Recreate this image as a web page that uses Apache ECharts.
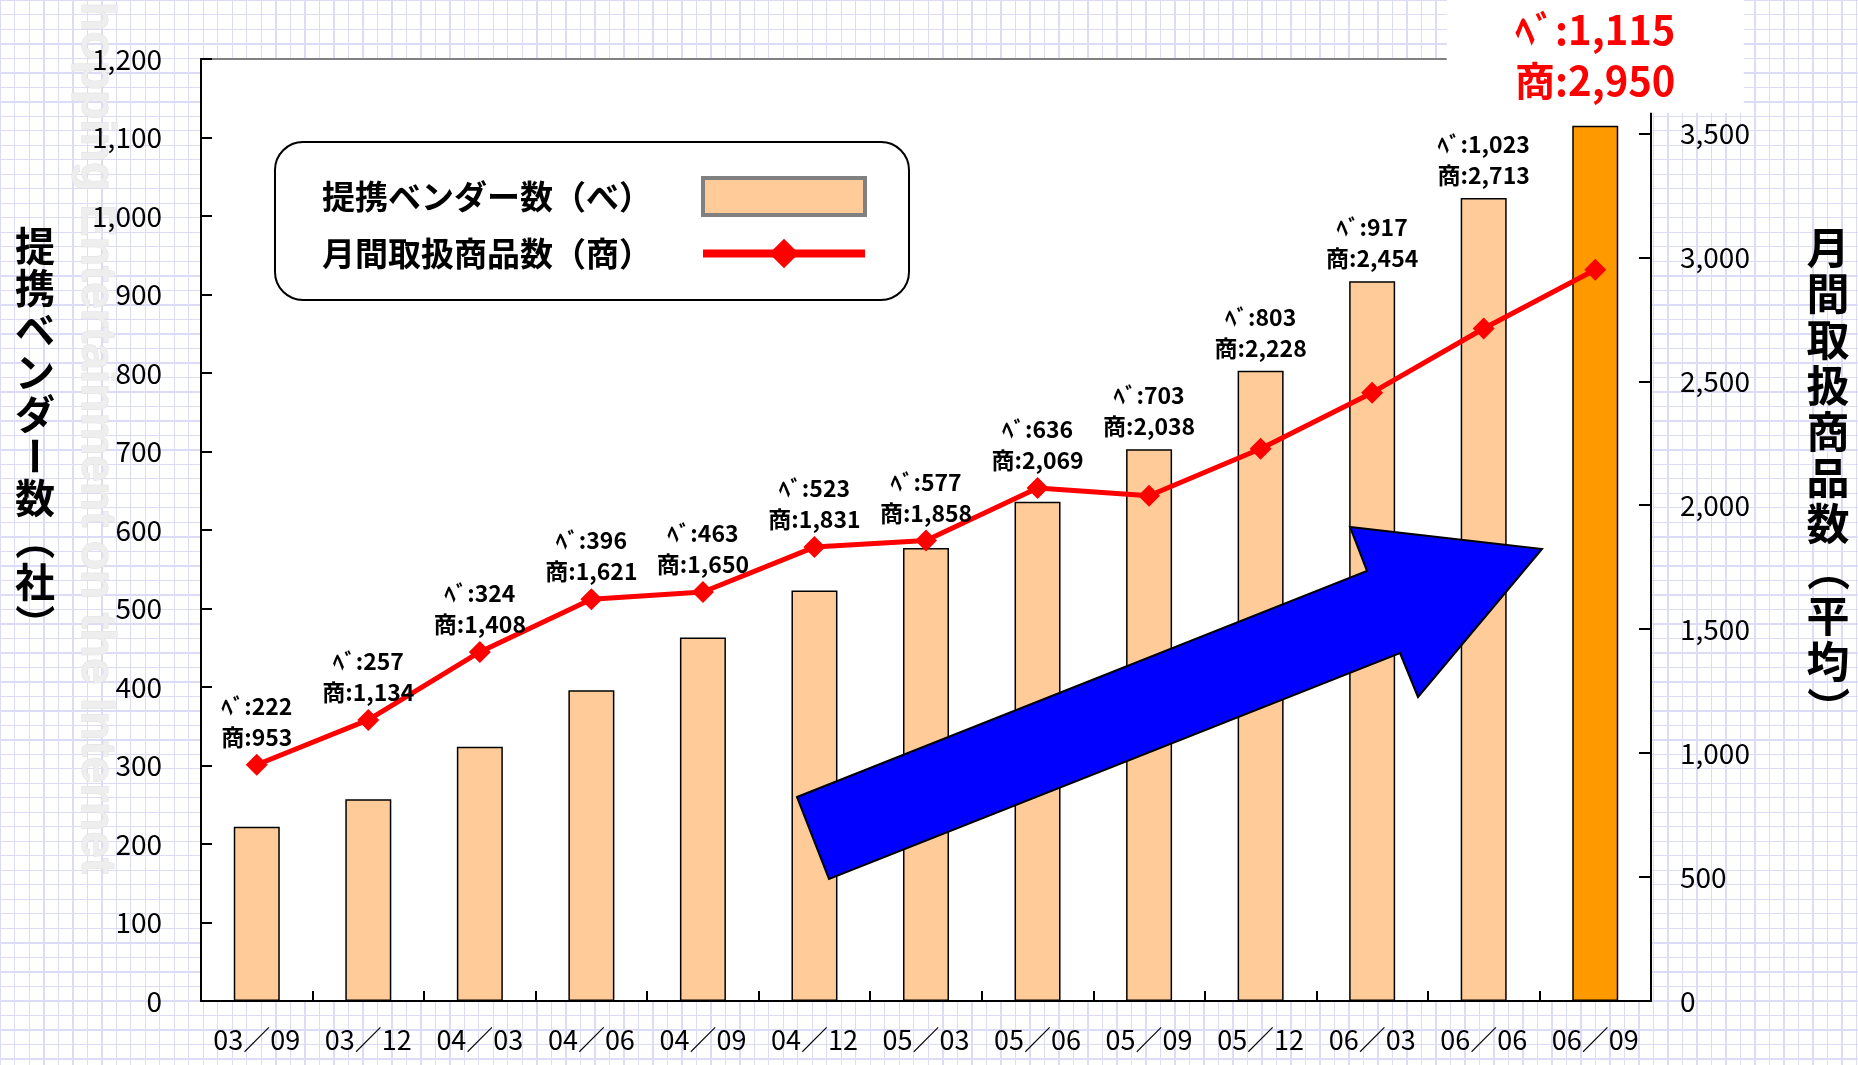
<!DOCTYPE html>
<html>
<head>
<meta charset="utf-8">
<script src="https://cdn.jsdelivr.net/npm/echarts@6/dist/echarts.min.js"></script>
<style>
  html, body { margin: 0; padding: 0; }
  #chart {
    width: 1858px;
    height: 1065px;
    background-color: #ffffff;
    background-image:
      repeating-linear-gradient(to right, #dcdcf6 0 1px, transparent 1px 14.5px),
      repeating-linear-gradient(to bottom, #dcdcf6 0 1px, transparent 1px 14.5px);
  }
</style>
</head>
<body>
<div id="chart"></div>
<script>
// Half-yearly periods (yy／mm)
const categories = ['03／09', '03／12', '04／03', '04／06', '04／09', '04／12', '05／03',
                    '05／06', '05／09', '05／12', '06／03', '06／06', '06／09'];
// Partner vendors (left axis, companies)
const vendorCounts = [222, 257, 324, 396, 463, 523, 577, 636, 703, 803, 917, 1023, 1115];
// Monthly products handled, average (right axis)
const productCounts = [953, 1134, 1408, 1621, 1650, 1831, 1858, 2069, 2038, 2228, 2454, 2713, 2950];

// Axis scales
const leftMin = 0, leftMax = 1200, leftStep = 100;
const rightMin = 0, rightMax = 3800, rightStep = 500;

const vendorName = '提携ベンダー数（べ）';
const productName = '月間取扱商品数（商）';
const leftTitle = '提携ベンダー数（社）';
const rightTitle = '月間取扱商品数（平均）';

const FONT = '"Noto Sans CJK JP", "Noto Sans", sans-serif';
const fmt = n => n.toLocaleString('en-US');
const pairLabel = i => 'ﾍﾞ:' + fmt(vendorCounts[i]) + '\n商:' + fmt(productCounts[i]);

// the value label sits on whichever mark reaches higher
const lineOnTop = vendorCounts.map((v, i) =>
  (productCounts[i] - rightMin) / (rightMax - rightMin) > (v - leftMin) / (leftMax - leftMin));
const lastIdx = categories.length - 1;

const barData = vendorCounts.map((v, i) => {
  const item = { value: v, label: { show: !lineOnTop[i] } };
  if (i === lastIdx) {
    item.itemStyle = { color: '#FF9900' };
    item.label = {
      show: true,
      distance: 13,
      fontSize: 40,
      fontWeight: 'bold',
      lineHeight: 51,
      color: '#FF0000',
      backgroundColor: '#ffffff',
      width: 277,
      align: 'center',
      padding: [6, 10, 6, 10]
    };
  }
  return item;
});
const lineData = productCounts.map((v, i) => ({ value: v, label: { show: lineOnTop[i] } }));

// vertical (tategaki) axis titles, one glyph per text element
function verticalTitle(text, cx, top, step, size) {
  const rotated = { 'ー': true, '（': true, '）': true };
  return Array.from(text).map((ch, i) => ({
    type: 'text',
    x: cx,
    y: top + step * i + step / 2,
    rotation: rotated[ch] ? -Math.PI / 2 : 0,
    z: 20,
    style: {
      text: ch,
      fill: '#000',
      font: 'bold ' + size + 'px ' + FONT,
      align: 'center',
      verticalAlign: 'middle'
    }
  }));
}

const chart = echarts.init(document.getElementById('chart'), null, { renderer: 'canvas' });

const option = {
  backgroundColor: 'transparent',
  animation: false,
  textStyle: { fontFamily: FONT },
  grid: {
    left: 201, top: 59, right: 207, bottom: 64,
    show: true,
    backgroundColor: '#ffffff',
    borderColor: '#808080',
    borderWidth: 2
  },
  legend: {
    left: 275,
    top: 142,
    orient: 'vertical',
    align: 'right',
    selectedMode: false,
    backgroundColor: '#ffffff',
    borderColor: '#000000',
    borderWidth: 2,
    borderRadius: 28,
    padding: [34, 40, 30, 47],
    itemWidth: 162,
    itemHeight: 37,
    itemGap: 20,
    textStyle: {
      fontFamily: FONT,
      fontSize: 33,
      fontWeight: 'bold',
      color: '#000',
      padding: [0, 46, 6, 0]
    },
    data: [
      { name: vendorName, icon: 'rect', itemStyle: { color: '#FFCC99', borderColor: '#808080', borderWidth: 4 } },
      { name: productName, lineStyle: { width: 8, color: '#FF0000' } }
    ]
  },
  xAxis: {
    type: 'category',
    data: categories,
    boundaryGap: true,
    axisLine: { show: true, lineStyle: { color: '#000', width: 2 } },
    axisTick: { show: true, inside: true, length: 10, interval: 0, lineStyle: { color: '#000', width: 2 } },
    axisLabel: { color: '#000', fontSize: 27, margin: 25, interval: 0, hideOverlap: false, fontFamily: FONT },
    splitLine: { show: false }
  },
  yAxis: [
    {
      type: 'value',
      position: 'left',
      min: leftMin, max: leftMax, interval: leftStep,
      axisLine: { show: true, lineStyle: { color: '#000', width: 2 } },
      axisTick: { show: true, inside: true, length: 11, lineStyle: { color: '#000', width: 2 } },
      axisLabel: { color: '#000', fontSize: 28, margin: 39, fontFamily: FONT, formatter: v => fmt(v) },
      splitLine: { show: false }
    },
    {
      type: 'value',
      position: 'right',
      min: rightMin, max: rightMax, interval: rightStep,
      alignTicks: false,
      axisLine: { show: true, lineStyle: { color: '#000', width: 2 } },
      axisTick: { show: true, inside: true, length: 12, lineStyle: { color: '#000', width: 2 } },
      axisLabel: { color: '#000', fontSize: 28, margin: 29, fontFamily: FONT, showMaxLabel: false, formatter: v => fmt(v) },
      splitLine: { show: false }
    }
  ],
  series: [
    {
      name: vendorName,
      type: 'bar',
      yAxisIndex: 0,
      barWidth: 46,
      data: barData,
      itemStyle: { color: '#FFCC99', borderColor: '#000', borderWidth: 1.5 },
      label: {
        show: false,
        position: 'top',
        distance: 7,
        formatter: p => pairLabel(p.dataIndex),
        fontFamily: FONT,
        fontSize: 23,
        fontWeight: 'bold',
        lineHeight: 31,
        color: '#000'
      },
      z: 2
    },
    {
      name: productName,
      type: 'line',
      yAxisIndex: 1,
      data: lineData,
      symbol: 'diamond',
      symbolSize: 22,
      color: '#FF0000',
      lineStyle: { color: '#FF0000', width: 5 },
      itemStyle: { color: '#FF0000' },
      label: {
        show: false,
        position: 'top',
        distance: 1,
        formatter: p => pairLabel(p.dataIndex),
        fontFamily: FONT,
        fontSize: 23,
        fontWeight: 'bold',
        lineHeight: 31,
        color: '#000'
      },
      z: 3
    }
  ],
  graphic: [
    // faint site watermark in the left margin
    {
      type: 'text',
      x: 95,
      y: -30,
      rotation: -Math.PI / 2,
      z: -10,
      style: {
        text: 'Shopping Entertainment on the Internet',
        font: 'bold 48px "Liberation Sans", Arial, sans-serif',
        fill: '#eeeeee',
        stroke: '#e0e0e0',
        lineWidth: 1,
        align: 'left',
        verticalAlign: 'middle'
      }
    },
    // growth arrow
    {
      type: 'polygon',
      z: 50,
      shape: {
        points: [[797, 797], [1367, 571], [1350, 527], [1542, 549],
                 [1418, 697], [1400, 653], [829, 879]]
      },
      style: { fill: '#0000FF', stroke: '#000', lineWidth: 2 }
    }
  ].concat(verticalTitle(leftTitle, 35, 225, 42, 40))
   .concat(verticalTitle(rightTitle, 1828, 225, 46, 43))
};

chart.setOption(option);
</script>
</body>
</html>
